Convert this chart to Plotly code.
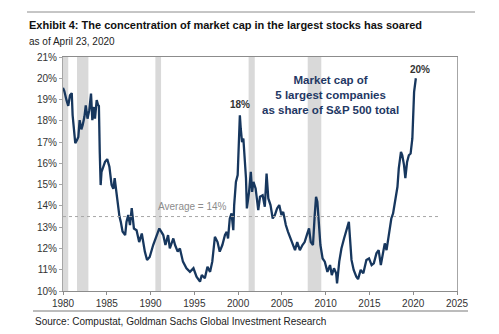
import plotly.graph_objects as go

years = [1980.0,1980.15,1980.4,1980.6,1980.8,1981.0,1981.1,1981.4,1981.6,1981.75,1981.9,1982.1,1982.25,1982.45,1982.6,1982.8,1983.0,1983.2,1983.35,1983.55,1983.65,1983.85,1984.0,1984.1,1984.2,1984.3,1984.4,1984.6,1984.8,1985.05,1985.3,1985.55,1985.75,1985.9,1986.05,1986.3,1986.45,1986.6,1986.8,1987.1,1987.25,1987.45,1987.65,1987.85,1988.1,1988.4,1988.7,1989.0,1989.35,1989.6,1989.9,1990.3,1990.5,1990.7,1991.0,1991.2,1991.45,1991.7,1992.0,1992.2,1992.6,1992.8,1993.1,1993.35,1993.7,1994.1,1994.5,1994.9,1995.25,1995.65,1995.85,1996.2,1996.5,1996.8,1997.05,1997.35,1997.65,1997.9,1998.2,1998.5,1998.7,1998.85,1999.05,1999.25,1999.45,1999.55,1999.75,1999.95,2000.05,2000.2,2000.3,2000.45,2000.6,2000.75,2000.9,2001.0,2001.25,2001.45,2001.6,2001.75,2002.0,2002.3,2002.5,2002.8,2003.05,2003.25,2003.45,2003.7,2003.95,2004.2,2004.45,2004.7,2004.95,2005.15,2005.45,2005.7,2006.0,2006.3,2006.5,2006.75,2007.05,2007.35,2007.6,2007.9,2008.1,2008.3,2008.55,2008.75,2008.9,2009.05,2009.25,2009.4,2009.65,2009.9,2010.2,2010.5,2010.7,2010.95,2011.2,2011.3,2011.55,2011.8,2012.1,2012.4,2012.65,2012.95,2013.2,2013.5,2013.7,2014.0,2014.3,2014.65,2014.95,2015.25,2015.5,2015.8,2016.05,2016.3,2016.55,2016.75,2016.95,2017.25,2017.5,2017.7,2017.9,2018.05,2018.2,2018.35,2018.6,2018.75,2018.95,2019.1,2019.3,2019.5,2019.7,2019.9,2020.0,2020.1,2020.3]
share_pct = [19.55,19.4,18.97,18.7,19.2,19.3,18.26,16.95,17.1,17.24,18.03,17.6,17.8,18.2,18.73,18.1,18.5,19.28,18.03,18.65,18.1,18.97,18.75,18.7,16.5,14.98,15.6,15.8,16.07,16.2,15.84,14.98,14.8,15.3,14.8,14.04,13.5,13.25,12.8,12.63,13.25,13.57,13.1,13.9,12.94,12.86,12.3,12.7,11.85,11.46,11.6,12.16,12.4,12.63,12.94,12.8,12.63,12.16,12.63,12.0,12.47,12.16,11.85,12.0,11.38,11.07,10.9,11.07,10.67,10.44,10.75,10.6,11.14,10.9,11.38,12.55,12.3,11.85,12.16,12.63,12.78,12.47,13.41,13.65,12.86,14.04,15.13,15.45,16.85,18.26,17.64,17.0,17.17,16.38,15.3,13.88,14.66,15.6,14.66,15.13,14.82,13.8,14.43,14.5,13.96,15.52,14.35,14.04,13.41,13.57,13.88,14.04,13.57,13.72,13.1,12.78,12.47,12.16,11.92,12.3,11.92,12.16,12.3,12.7,12.94,12.3,12.16,13.57,14.43,14.2,13.25,12.16,11.53,11.38,10.9,11.22,10.75,11.07,10.83,10.36,11.38,12.0,12.47,12.94,13.25,11.46,10.99,10.67,10.56,10.99,10.83,11.46,11.53,11.22,11.3,11.77,11.92,11.22,11.77,12.24,11.92,12.86,13.41,13.65,14.12,14.66,14.9,15.76,16.54,16.38,15.92,15.3,16.07,16.38,16.46,17.17,18.42,19.36,20.0]

recession_start = [1980.0, 1981.6, 1990.55, 2001.2, 2007.95]
recession_end = [1980.6, 1982.9, 1991.2, 2001.9, 2009.5]

average_level = 13.5
average_label = "Average = 14%"
avg_end_year = 2023.0

x_ticks = [1980, 1985, 1990, 1995, 2000, 2005, 2010, 2015, 2020, 2025]
y_ticks = [10, 11, 12, 13, 14, 15, 16, 17, 18, 19, 20, 21]
y_tick_text = [f"{v}%" for v in y_ticks]

FONT = "Liberation Sans, Arial, sans-serif"
NAVY = "#17375e"

fig = go.Figure()
fig.add_trace(go.Scatter(x=years, y=share_pct, mode="lines",
                         line=dict(color=NAVY, width=2.3), hoverinfo="skip"))
fig.add_trace(go.Scatter(x=[1980, avg_end_year], y=[average_level, average_level], mode="lines",
                         line=dict(color="#a6a6a6", width=1, dash="dot"), hoverinfo="skip"))

for s, e in zip(recession_start, recession_end):
    fig.add_shape(type="rect", xref="x", yref="paper", x0=s, x1=e, y0=0, y1=1,
                  fillcolor="#d9d9d9", line=dict(width=0), layer="below")

# header / footer rules
fig.add_shape(type="line", xref="paper", yref="paper", x0=-36/394, x1=412/394,
              y0=1+(57-12)/234, y1=1+(57-12)/234, line=dict(color="#8c8c8c", width=1))
fig.add_shape(type="line", xref="paper", yref="paper", x0=-30/394, x1=405/394,
              y0=-(311-291)/234, y1=-(311-291)/234, line=dict(color="#a6a6a6", width=1.5))

annotations = [
    dict(text="<b>Exhibit 4: The concentration of market cap in the largest stocks has soared</b>",
         xref="paper", yref="paper", x=-36/394, y=1+(57-25)/234, xanchor="left", yanchor="middle",
         font=dict(size=11, color="#111111")),
    dict(text="as of April 23, 2020", xref="paper", yref="paper", x=-36/394, y=1+(57-41)/234,
         xanchor="left", yanchor="middle", font=dict(size=10, color="#222222")),
    dict(text="Source: Compustat, Goldman Sachs Global Investment Research", xref="paper", yref="paper",
         x=-30/394, y=-(321-291)/234, xanchor="left", yanchor="middle", font=dict(size=10, color="#222222")),
    dict(text=average_label, x=1994.8, y=13.95, xanchor="center", yanchor="middle",
         font=dict(size=10, color="#8c8c8c")),
    dict(text="<b>18%</b>", x=2000.2, y=18.78, xanchor="center", yanchor="middle",
         font=dict(size=10, color="#333333")),
    dict(text="<b>20%</b>", x=2020.75, y=20.43, xanchor="center", yanchor="middle",
         font=dict(size=10, color="#333333")),
    dict(text="<b>Market cap of<br>5 largest companies<br>as share of S&P 500 total</b>",
         x=2010.5, y=19.2, xanchor="center", yanchor="middle", align="center", borderpad=0,
         font=dict(size=11.5, color="#1f3864")),
]
for a in annotations:
    a["showarrow"] = False
fig.update_layout(annotations=annotations)

fig.update_layout(
    width=499, height=334, margin=dict(l=63, r=42, t=57, b=43),
    paper_bgcolor="white", plot_bgcolor="white", showlegend=False,
    font=dict(family=FONT, color="#333333"),
    xaxis=dict(range=[1980, 2025], tickvals=x_ticks, ticktext=[str(t) for t in x_ticks],
               showgrid=False, zeroline=False, showline=True, linecolor="#8c8c8c", linewidth=1,
               mirror=True, ticks="outside", ticklen=3, tickcolor="#8c8c8c",
               tickfont=dict(size=10, color="#333333")),
    yaxis=dict(range=[10, 21], tickvals=y_ticks, ticktext=y_tick_text,
               showgrid=False, zeroline=False, showline=True, linecolor="#a6a6a6", linewidth=1,
               mirror=True, ticks="outside", ticklen=3, tickcolor="#a6a6a6",
               tickfont=dict(size=10, color="#333333")),
)

fig.write_html("out.html")
